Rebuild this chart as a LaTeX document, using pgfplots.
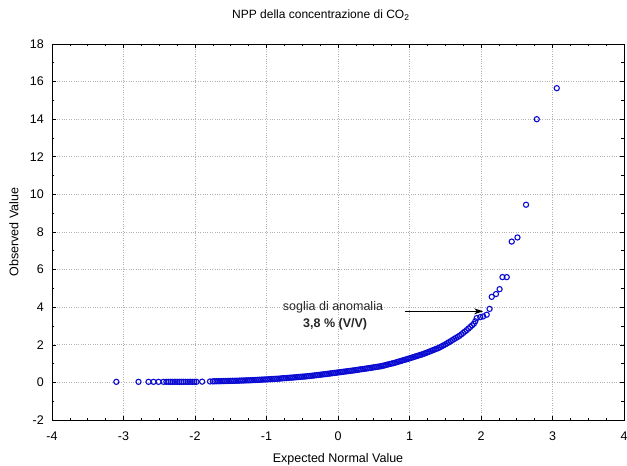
\documentclass[border=0pt]{standalone}
\usepackage{fontspec}
\setmainfont{Liberation Sans}
\usepackage{pgfplots}
\pgfplotsset{compat=1.18}
\usepackage{pgfplotstable}
\usetikzlibrary{arrows.meta}
\definecolor{mk}{RGB}{10,10,210}
\pgfplotstableread{
x y
-3.10 0.03
-2.79 0.03
-2.65 0.03
-2.58 0.03
-2.51 0.03
-2.44 0.03
-2.40 0.03
-2.37 0.03
-2.34 0.03
-2.31 0.03
-2.28 0.03
-2.25 0.03
-2.22 0.03
-2.19 0.03
-2.16 0.03
-2.13 0.03
-2.10 0.03
-2.07 0.03
-2.04 0.03
-2.01 0.03
-1.98 0.03
-1.90 0.04
-1.79 0.05
-1.750 0.055
-1.725 0.060
-1.700 0.060
-1.675 0.065
-1.650 0.065
-1.625 0.070
-1.600 0.070
-1.575 0.075
-1.550 0.075
-1.525 0.080
-1.500 0.080
-1.475 0.085
-1.450 0.085
-1.425 0.090
-1.400 0.090
-1.375 0.095
-1.350 0.100
-1.325 0.100
-1.300 0.105
-1.275 0.110
-1.250 0.110
-1.225 0.115
-1.200 0.120
-1.175 0.125
-1.150 0.130
-1.125 0.135
-1.100 0.140
-1.075 0.145
-1.050 0.150
-1.025 0.155
-1.000 0.160
-0.975 0.165
-0.950 0.170
-0.925 0.180
-0.900 0.185
-0.875 0.190
-0.850 0.195
-0.825 0.200
-0.800 0.210
-0.775 0.220
-0.750 0.225
-0.725 0.230
-0.700 0.240
-0.675 0.250
-0.650 0.255
-0.625 0.260
-0.600 0.270
-0.575 0.280
-0.550 0.290
-0.525 0.295
-0.500 0.305
-0.475 0.310
-0.450 0.320
-0.425 0.330
-0.400 0.340
-0.375 0.350
-0.350 0.360
-0.325 0.375
-0.300 0.385
-0.275 0.395
-0.250 0.405
-0.225 0.420
-0.200 0.430
-0.175 0.440
-0.150 0.455
-0.125 0.465
-0.100 0.480
-0.075 0.490
-0.050 0.505
-0.025 0.515
0.000 0.530
0.025 0.540
0.050 0.555
0.075 0.565
0.100 0.580
0.125 0.590
0.150 0.605
0.175 0.615
0.200 0.630
0.225 0.640
0.250 0.655
0.275 0.670
0.300 0.685
0.325 0.700
0.350 0.710
0.375 0.725
0.400 0.740
0.425 0.755
0.450 0.770
0.475 0.785
0.500 0.800
0.525 0.815
0.550 0.830
0.575 0.845
0.600 0.860
0.625 0.880
0.650 0.905
0.675 0.930
0.700 0.955
0.725 0.980
0.750 1.000
0.775 1.025
0.800 1.050
0.825 1.080
0.850 1.110
0.875 1.135
0.900 1.165
0.925 1.195
0.950 1.220
0.975 1.250
1.000 1.280
1.025 1.310
1.050 1.340
1.075 1.370
1.100 1.400
1.125 1.430
1.150 1.460
1.175 1.490
1.200 1.520
1.225 1.560
1.250 1.595
1.275 1.630
1.300 1.670
1.325 1.710
1.350 1.745
1.375 1.785
1.400 1.820
1.425 1.870
1.450 1.920
1.475 1.970
1.500 2.020
1.525 2.080
1.550 2.135
1.575 2.190
1.600 2.250
1.625 2.310
1.650 2.365
1.675 2.420
1.700 2.480
1.725 2.555
1.750 2.630
1.775 2.705
1.800 2.780
1.825 2.865
1.850 2.950
1.875 3.035
1.900 3.120
1.920 3.250
1.94 3.42
1.99 3.47
2.03 3.51
2.08 3.60
2.12 3.91
2.15 4.55
2.21 4.70
2.26 4.96
2.30 5.60
2.36 5.60
2.43 7.49
2.51 7.71
2.63 9.45
2.78 14.00
3.06 15.65
}\npp
\begin{document}
\fontsize{12.5bp}{15bp}\selectfont
\begin{tikzpicture}
\path[use as bounding box] (-52bp,-46bp) rectangle (575bp,420bp);
\begin{axis}[
  scale only axis, width=572bp, height=376bp,
  at={(0,0)}, anchor=south west,
  xmin=-4, xmax=4, ymin=-2, ymax=18,
  xtick={-4,-3,-2,-1,0,1,2,3,4},
  xticklabels={-4,-3,-2,-1,0,1,2,3,4},
  ytick={-2,0,2,4,6,8,10,12,14,16,18},
  yticklabels={-2,0,2,4,6,8,10,12,14,16,18},
  minor x tick num=3, minor y tick num=1,
  tick align=inside, major tick length=4bp, minor tick length=2.5bp,
  every tick/.style={black, line width=0.6bp},
  axis line style={black, line width=0.8bp},
  grid=major,
  major grid style={dotted, black!30, line width=0.7bp},
  xticklabel style={anchor=north, inner sep=0pt, yshift=-12bp},
  yticklabel style={anchor=east, inner sep=0pt, xshift=-8bp},
  title={NPP della concentrazione di CO\textsubscript{2}},
  title style={at={(axis description cs:0.47,1.052)}, anchor=base, inner sep=0pt, font=\fontsize{12bp}{14bp}\selectfont},
  xlabel={Expected Normal Value},
  xlabel style={at={(axis description cs:0.5,-0.113)}, anchor=base, inner sep=0pt},
  ylabel={Observed Value},
  ylabel style={at={(axis description cs:-0.0664,0.5)}, anchor=center, inner sep=0pt},
]
\addplot[only marks, mark=o, mark size=2.6bp, mark options={draw=mk, line width=1.1bp}] table[x=x, y=y] {\npp};
\node[anchor=base, text=black!85] at (axis cs:-0.07,3.81) {soglia di anomalia};
\node[anchor=base, font=\bfseries, text=black!85] at (axis cs:-0.04,2.93) {3,8 \% (V/V)};
\draw[-{Stealth[length=9bp,width=6bp]}, line width=1bp] (axis cs:0.94,3.78) -- (axis cs:2.03,3.78);
\end{axis}
\end{tikzpicture}
\end{document}
